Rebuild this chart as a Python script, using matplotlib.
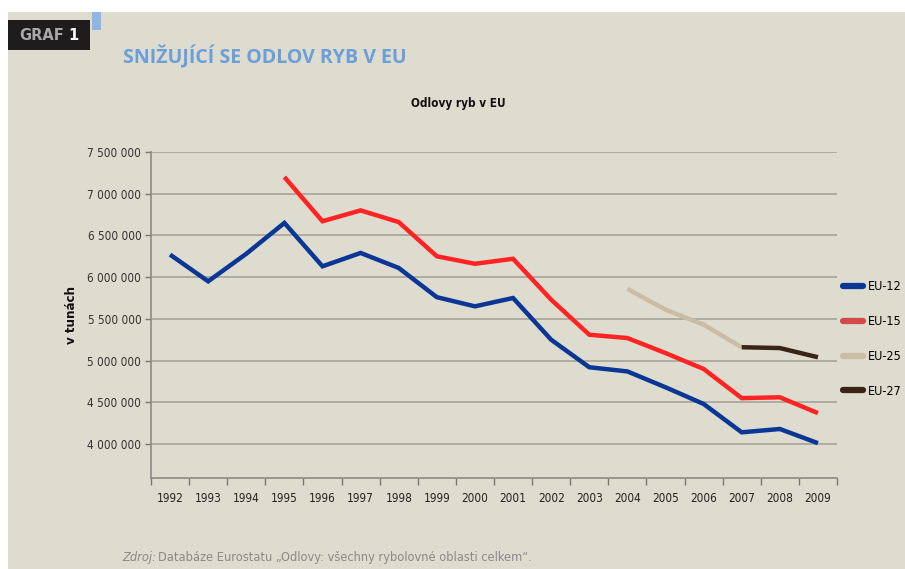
import numpy as np
import matplotlib
matplotlib.use("Agg")
import matplotlib.pyplot as plt
from matplotlib.patches import Rectangle
from matplotlib.lines import Line2D

# data (tonnes)
years = [str(y) for y in range(1992, 2010)]
eu12 = [6270000, 5950000, 6280000, 6650000, 6130000, 6290000, 6110000, 5760000, 5650000,
        5750000, 5250000, 4920000, 4870000, 4680000, 4480000, 4140000, 4180000, 4010000]
eu15 = [None, None, None, 7200000, 6670000, 6800000, 6660000, 6250000, 6160000,
        6220000, 5730000, 5310000, 5270000, 5090000, 4900000, 4550000, 4560000, 4370000]
eu25 = [None] * 12 + [5860000, 5610000, 5430000, 5160000, None, None]
eu27 = [None] * 15 + [5160000, 5150000, 5040000]
series_names = ["EU-12", "EU-15", "EU-25", "EU-27"]
yticks = [4000000, 4500000, 5000000, 5500000, 6000000, 6500000, 7000000, 7500000]

colors = ["#0a3796", "#ff2424", "#cbbca4", "#3b2316"]
legend_colors = ["#0a3796", "#d24a4a", "#cbbca4", "#3b2316"]
bg = "#dedbcf"

plt.rcParams['font.family'] = ["DejaVu Sans"]
plt.rcParams['font.stretch'] = "condensed"

fig = plt.figure(figsize=(9.05, 5.69), dpi=100)
fig.patch.set_facecolor("white")
# beige panel
fig.patches.append(Rectangle((8 / 905, 0), 1, 1 - 12 / 569, transform=fig.transFigure,
                             facecolor=bg, edgecolor="none", zorder=-10))
# GRAF 1 box and blue square
fig.patches.append(Rectangle((8 / 905, 1 - 50 / 569), 82 / 905, 30 / 569, transform=fig.transFigure,
                             facecolor="#1e1c1c", edgecolor="none", zorder=-9))
fig.patches.append(Rectangle((92 / 905, 1 - 30 / 569), 9 / 905, 18 / 569, transform=fig.transFigure,
                             facecolor="#8fb4e6", edgecolor="none", zorder=-9))
fig.text(19 / 905, 1 - 35 / 569, "GRAF", color="#a9a9a9", fontsize=10.5, fontweight="bold",
         stretch="normal", va="center", ha="left")
fig.text(68 / 905, 1 - 35 / 569, "1", color="white", fontsize=10.5, fontweight="bold",
         stretch="normal", va="center", ha="left")
fig.text(123 / 905, 1 - 57 / 569, "SNIŽUJÍCÍ SE ODLOV RYB V EU", color="#6a9fd9", fontsize=14,
         fontweight="bold", family="Open Sans", stretch="normal", va="center", ha="left")
fig.text(458 / 905, 1 - 103 / 569, "Odlovy ryb v EU", color="#111111", fontsize=8.5,
         fontweight="bold", va="center", ha="center")

ax = fig.add_axes([151 / 905, 91 / 569, 686 / 905, 326 / 569])
ax.set_facecolor(bg)

x = np.arange(len(years))
for vals, c in zip([eu12, eu15, eu25, eu27], colors):
    arr = np.array([np.nan if v is None else v for v in vals], dtype=float)
    ax.plot(x, arr, color=c, lw=3.2, solid_capstyle="butt", solid_joinstyle="miter")

ax.set_xlim(-0.5, len(years) - 0.5)
ax.set_ylim(3592500, 7500000)
ax.set_yticks(yticks)
ax.set_yticklabels([f"{v:,}".replace(",", " ") for v in yticks], fontsize=8.5, color="#333333")
ax.yaxis.grid(True, color="#a6a398", lw=1.2)
ax.set_axisbelow(True)

ax.set_xticks(np.arange(-0.5, len(years), 1.0))
ax.set_xticklabels([])
ax.set_xticks(x, minor=True)
ax.set_xticklabels(years, minor=True, fontsize=8.5, color="#222222")
ax.tick_params(axis="x", which="minor", length=0, pad=10)
ax.tick_params(axis="x", which="major", length=5, color="#777777", width=1)
ax.tick_params(axis="y", length=4, color="#777777", width=1, pad=3)

for s in ["top", "right"]:
    ax.spines[s].set_visible(False)
for s in ["left", "bottom"]:
    ax.spines[s].set_color("#8a8a86")
    ax.spines[s].set_linewidth(1.2)

ax.set_ylabel("v tunách", fontsize=9.5, fontweight="bold", labelpad=7, color="#111111")

handles = [Line2D([], [], color=c, lw=4.5, solid_capstyle="round") for c in legend_colors]
fig.legend(handles, series_names, loc="center left", bbox_to_anchor=(843 / 905, 1 - 339 / 569),
           frameon=False, fontsize=9, handlelength=1.6, handletextpad=0.4, labelspacing=1.75,
           borderaxespad=0, borderpad=0)

src1 = fig.text(122 / 905, 1 - 557 / 569, "Zdroj:", color="#8a8a8a", fontsize=9.2, style="italic",
                va="center", ha="left")
fig.canvas.draw()
bb = src1.get_window_extent()
fig.text(bb.x1 / 905 + 2 / 905, 1 - 557 / 569,
         "Databáze Eurostatu „Odlovy: všechny rybolovné oblasti celkem“.",
         color="#8a8a8a", fontsize=9.2, va="center", ha="left")

fig.savefig("out.png", dpi=100, facecolor=fig.get_facecolor())
